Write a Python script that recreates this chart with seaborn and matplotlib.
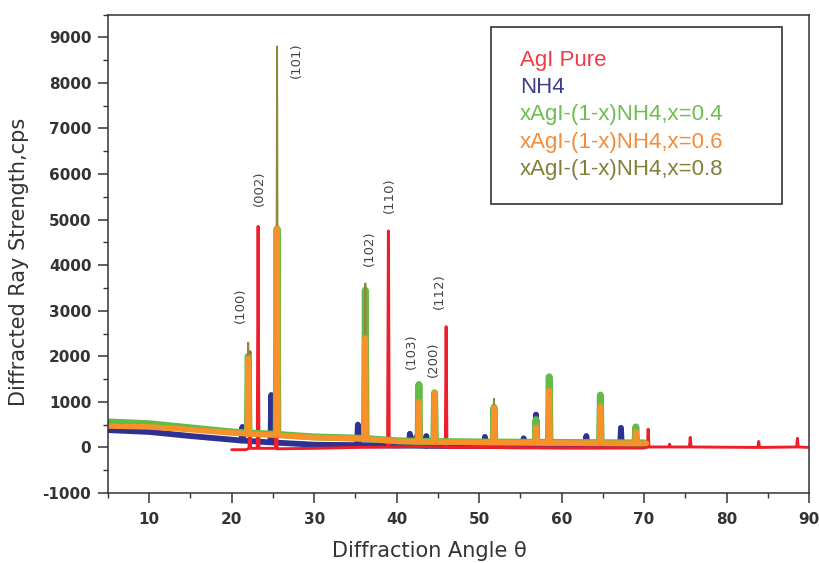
import numpy as np
import pandas as pd
import matplotlib
matplotlib.use("Agg")
import matplotlib.pyplot as plt
from matplotlib.patches import Rectangle
from matplotlib.lines import Line2D
import seaborn as sns

# ---------------- data (vertices) ----------------
agi_x = [20, 21.7, 22.1, 22.2, 22.3, 23.1, 23.2, 23.3, 25.3, 25.4, 25.5, 30, 35, 38.9, 39.0, 39.1,
         42.1, 42.2, 42.3, 45.9, 46.0, 46.1, 50, 60, 70.4, 70.5, 70.6, 73.0, 73.1, 73.2,
         75.5, 75.6, 75.7, 83.8, 83.9, 84.0, 88.5, 88.6, 88.7, 90]
agi_y = [-50, -50, -20, 2100, -20, -20, 4850, -20, -20, 4500, -30, -20, 0, 10, 4750, 10,
         20, 250, 20, 10, 2650, 0, 0, -10, 0, 400, 10, 10, 70, 10,
         10, 220, 10, 0, 130, 0, 10, 200, 10, 0]

nh4_x = [5, 10, 15, 20, 21.2, 21.3, 21.4, 24.7, 24.8, 24.9, 30, 35.2, 35.3, 35.4, 40, 41.5, 41.6, 41.7,
         43.5, 43.6, 43.7, 50.6, 50.7, 50.8, 55.3, 55.4, 55.5, 56.8, 56.9, 57.0, 62.9, 63.0, 63.1,
         67.1, 67.2, 67.3, 70]
nh4_y = [380, 340, 250, 170, 150, 450, 150, 110, 1150, 110, 60, 50, 500, 50, 40, 40, 300, 40,
         35, 250, 35, 30, 230, 30, 25, 200, 25, 25, 720, 25, 20, 250, 20,
         20, 430, 20, 20]

x04_x = [5, 10, 15, 20, 21.9, 22.0, 22.1, 25.4, 25.5, 25.6, 30, 36.1, 36.2, 36.3, 40, 42.6, 42.7, 42.8,
         44.5, 44.6, 44.7, 50, 51.7, 51.8, 51.9, 56.8, 56.9, 57.0, 58.4, 58.5, 58.6,
         64.6, 64.7, 64.8, 68.9, 69.0, 69.1, 70]
x04_y = [560, 520, 430, 340, 320, 2000, 315, 290, 4800, 285, 230, 200, 3450, 195, 145, 135, 1380, 135,
         130, 1200, 130, 120, 118, 880, 118, 112, 610, 112, 110, 1550, 110,
         105, 1150, 105, 100, 450, 100, 100]

x06_x = [5, 10, 15, 20, 21.9, 22.0, 22.1, 25.4, 25.5, 25.6, 30, 36.1, 36.2, 36.3, 40, 42.6, 42.7, 42.8,
         44.5, 44.6, 44.7, 51.7, 51.8, 51.9, 56.8, 56.9, 57.0, 58.4, 58.5, 58.6,
         64.6, 64.7, 64.8, 68.9, 69.0, 69.1, 70.3]
x06_y = [470, 450, 390, 320, 300, 1950, 295, 270, 4800, 265, 215, 190, 2400, 185, 135, 125, 1000, 125,
         120, 1200, 120, 110, 870, 110, 105, 450, 105, 100, 1250, 100,
         95, 900, 95, 90, 350, 90, 90]

x08_x = [5, 10, 15, 20, 21.9, 22.0, 22.1, 25.4, 25.5, 25.6, 30, 36.1, 36.2, 36.3, 40, 42.6, 42.7, 42.8,
         44.5, 44.6, 44.7, 51.7, 51.8, 51.9, 56.8, 56.9, 57.0, 58.4, 58.5, 58.6,
         64.6, 64.7, 64.8, 68.9, 69.0, 69.1, 70]
x08_y = [520, 480, 405, 325, 300, 2300, 300, 270, 8800, 265, 222, 192, 3600, 185, 135, 125, 950, 125,
         120, 1100, 120, 110, 1070, 110, 105, 420, 105, 100, 1150, 100,
         95, 850, 95, 90, 330, 90, 90]

series_names = ["AgI Pure", "NH4", "xAgI-(1-x)NH4,x=0.4", "xAgI-(1-x)NH4,x=0.6", "xAgI-(1-x)NH4,x=0.8"]

peak_labels = ["(100)", "(002)", "(101)", "(102)", "(110)", "(103)", "(200)", "(112)"]
peak_label_x = [21.0, 23.35, 27.9, 36.7, 39.1, 41.8, 44.5, 45.2]
peak_label_y = [3130, 5690, 8500, 4380, 5540, 2120, 1930, 3420]

x_ticks = [10, 20, 30, 40, 50, 60, 70, 80, 90]
y_ticks = [-1000, 0, 1000, 2000, 3000, 4000, 5000, 6000, 7000, 8000, 9000]

# ---------------- styling ----------------
colors = {"AgI Pure": "#ee1f2a", "NH4": "#2e3192", "xAgI-(1-x)NH4,x=0.4": "#63bb47",
          "xAgI-(1-x)NH4,x=0.6": "#f7922a", "xAgI-(1-x)NH4,x=0.8": "#8f8a3a"}
text_colors = {"AgI Pure": "#f03c45", "NH4": "#3a3d8f", "xAgI-(1-x)NH4,x=0.4": "#6cbf50",
               "xAgI-(1-x)NH4,x=0.6": "#f48c3a", "xAgI-(1-x)NH4,x=0.8": "#80803a"}
widths = {"AgI Pure": 2.1, "NH4": 4.2, "xAgI-(1-x)NH4,x=0.4": 5.0,
          "xAgI-(1-x)NH4,x=0.6": 4.0, "xAgI-(1-x)NH4,x=0.8": 1.4}
zorders = {"NH4": 2, "AgI Pure": 2.1, "xAgI-(1-x)NH4,x=0.4": 2.2,
           "xAgI-(1-x)NH4,x=0.8": 2.3, "xAgI-(1-x)NH4,x=0.6": 2.4}

sns.set_theme(style="white")
plt.rcParams["font.family"] = ["DejaVu Sans"]
plt.rcParams["axes.unicode_minus"] = False

fig = plt.figure(figsize=(8.19, 5.63), dpi=100)
W, H = 819, 563
L, R, T, B = 108, 809, 14.5, 493
ax = fig.add_axes([L / W, 1 - B / H, (R - L) / W, (B - T) / H])

data = {
    "NH4": (nh4_x, nh4_y),
    "AgI Pure": (agi_x, agi_y),
    "xAgI-(1-x)NH4,x=0.4": (x04_x, x04_y),
    "xAgI-(1-x)NH4,x=0.8": (x08_x, x08_y),
    "xAgI-(1-x)NH4,x=0.6": (x06_x, x06_y),
}
for name, (xs, ys) in data.items():
    df = pd.DataFrame({"angle": xs, "cps": ys})
    sns.lineplot(data=df, x="angle", y="cps", ax=ax, color=colors[name], lw=widths[name],
                 sort=False, estimator=None, solid_joinstyle="round", solid_capstyle="round",
                 zorder=zorders[name])

ax.set_xlim(5, 90)
ax.set_ylim(-1000, 9500)
ax.set_xticks(x_ticks)
ax.set_yticks(y_ticks)
ax.set_xticks(np.arange(5, 91, 5), minor=True)
ax.set_yticks(np.arange(-1000, 9501, 500), minor=True)
ax.tick_params(axis="both", which="major", direction="out", length=7, width=1.1,
               color="#333333", labelsize=11, labelcolor="#333333", left=True, bottom=True)
ax.tick_params(axis="both", which="minor", direction="out", length=3.8, width=1.0,
               color="#333333", left=True, bottom=True)
ax.tick_params(axis="y", which="major", pad=5)
ax.tick_params(axis="x", which="major", pad=7)
for lab in ax.get_xticklabels() + ax.get_yticklabels():
    lab.set_fontweight("bold")
for s in ax.spines.values():
    s.set_color("#333333")
    s.set_linewidth(1.1)

ax.set_xlabel("Diffraction Angle θ", fontsize=15, color="#333333")
ax.set_ylabel("Diffracted Ray Strength,cps", fontsize=15, color="#333333")
ax.xaxis.set_label_coords((429 - L) / (R - L), (B - 541) / (B - T))
ax.yaxis.set_label_coords((29 - L) / (R - L), (B - 262) / (B - T))

for lab, px, py in zip(peak_labels, peak_label_x, peak_label_y):
    ax.text(px, py, lab, rotation=90, ha="center", va="center", fontsize=9.5,
            color="#444444", family="DejaVu Sans")

# legend: colored text only
order = ["AgI Pure", "NH4", "xAgI-(1-x)NH4,x=0.4", "xAgI-(1-x)NH4,x=0.6", "xAgI-(1-x)NH4,x=0.8"]
handles = [Line2D([], [], color=colors[n], lw=0) for n in order]
leg = ax.legend(handles, series_names, loc="upper left", frameon=False,
                bbox_to_anchor=((520 - L) / (R - L), (B - 50) / (B - T)),
                handlelength=0, handletextpad=0, borderpad=0, borderaxespad=0,
                labelspacing=0.28, prop={"family": "Liberation Sans", "size": 16})
for txt, n in zip(leg.get_texts(), order):
    txt.set_color(text_colors[n])

ax.add_patch(Rectangle(((491 - L) / (R - L), (B - 204) / (B - T)),
                       (782 - 491) / (R - L), (204 - 27) / (B - T),
                       transform=ax.transAxes, fill=False, edgecolor="#333333", lw=1.2, zorder=5))

fig.savefig("out.png", dpi=100)
